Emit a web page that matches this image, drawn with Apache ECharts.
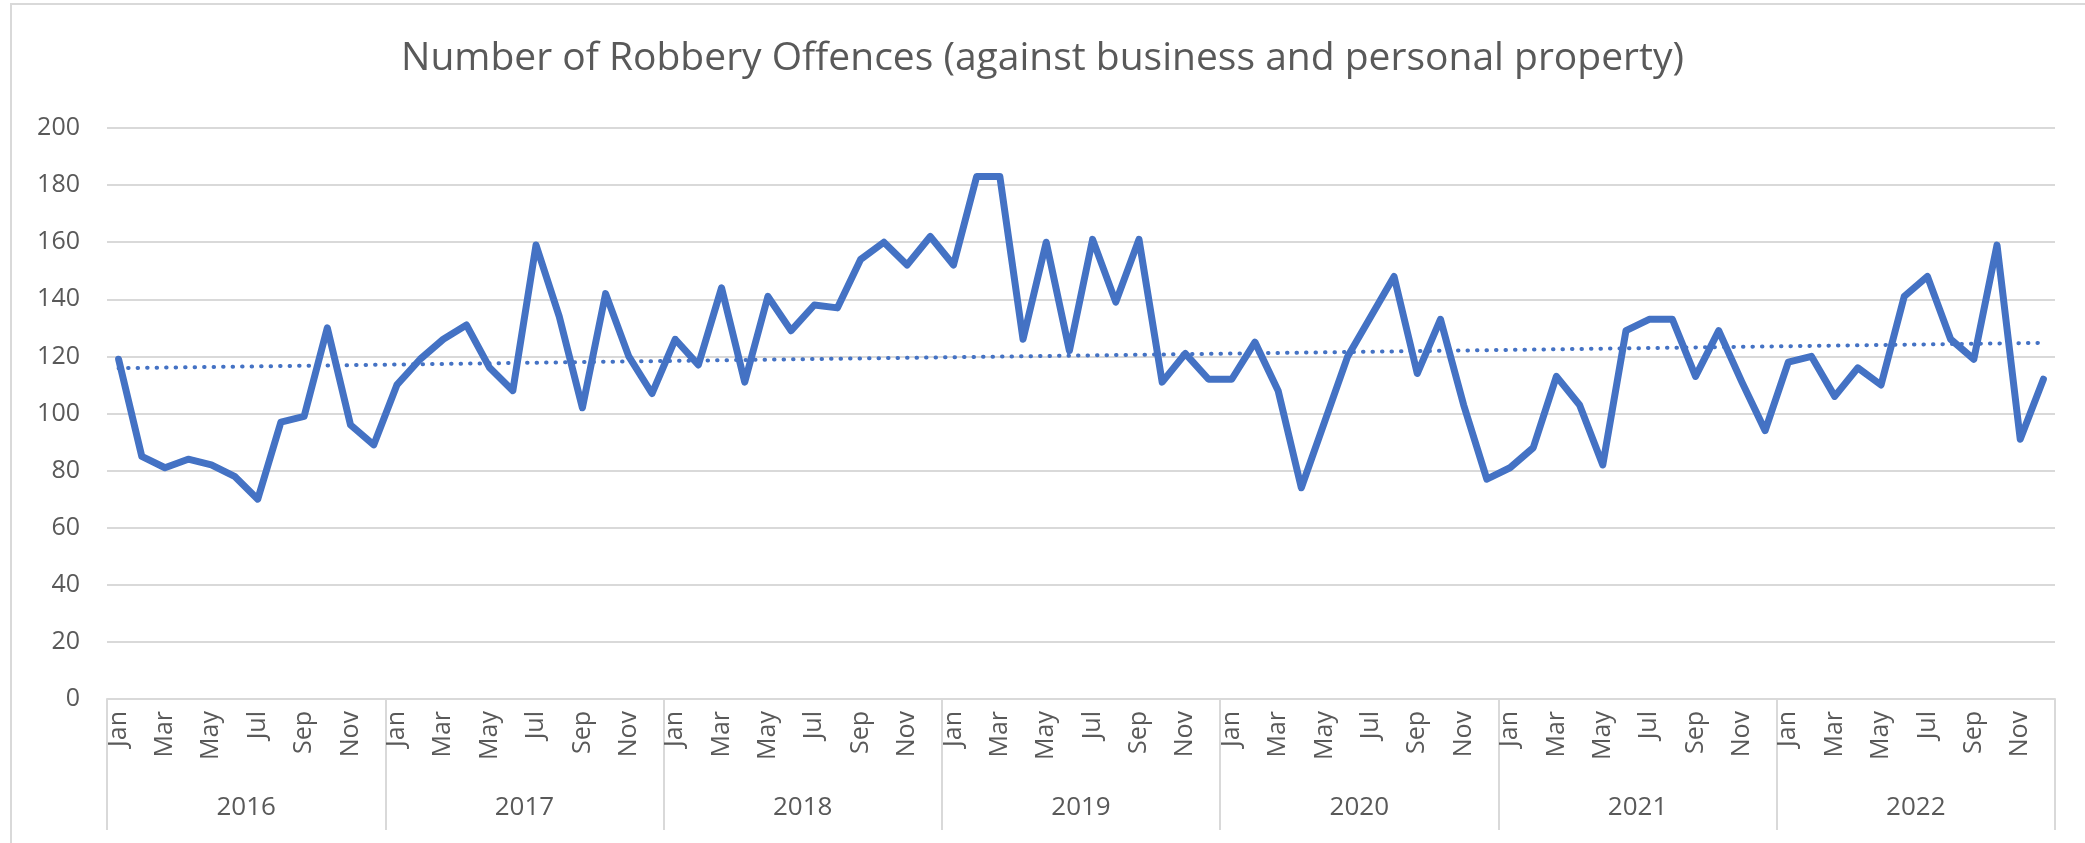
<!DOCTYPE html>
<html>
<head>
<meta charset="utf-8">
<script src="https://cdn.jsdelivr.net/npm/echarts@6/dist/echarts.min.js"></script>
<style>
html,body{margin:0;padding:0;background:#fff;}
#chart{width:2085px;height:843px;}
</style>
</head>
<body>
<div id="chart"></div>
<script>
var titleText = 'Number of Robbery Offences (against business and personal property)';
var years = ['2016', '2017', '2018', '2019', '2020', '2021', '2022'];
var monthNames = ['Jan','Feb','Mar','Apr','May','Jun','Jul','Aug','Sep','Oct','Nov','Dec'];
var yTicks = [0, 20, 40, 60, 80, 100, 120, 140, 160, 180, 200];

var v2016 = [119, 85, 81, 84, 82, 78, 70, 97, 99, 130, 96, 89];
var v2017 = [110, 119, 126, 131, 116, 108, 159, 134, 102, 142, 120, 107];
var v2018 = [126, 117, 144, 111, 141, 129, 138, 137, 154, 160, 152, 162];
var v2019 = [152, 183, 183, 126, 160, 122, 161, 139, 161, 111, 121, 112];
var v2020 = [112, 125, 108, 74, 97, 120, 134, 148, 114, 133, 103, 77];
var v2021 = [81, 88, 113, 103, 82, 129, 133, 133, 113, 129, 111, 94];
var v2022 = [118, 120, 106, 116, 110, 141, 148, 126, 119, 159, 91, 112];

var values = [].concat(v2016, v2017, v2018, v2019, v2020, v2021, v2022);
var months = [];
years.forEach(function (y) { monthNames.forEach(function (m) { months.push(m); }); });

// Linear trendline (least squares) derived from the data, as the spreadsheet does
var n = values.length, sx = 0, sy = 0, sxy = 0, sxx = 0;
for (var i = 0; i < n; i++) { sx += i; sy += values[i]; sxy += i * values[i]; sxx += i * i; }
var slope = (n * sxy - sx * sy) / (n * sxx - sx * sx);
var intercept = (sy - slope * sx) / n;
var trend = values.map(function (_, i) { return +(intercept + slope * i).toFixed(3); });

var FONT = 'Open Sans';
var chart = echarts.init(document.getElementById('chart'), null, {renderer: 'canvas'});
chart.setOption({
  animation: false,
  backgroundColor: '#ffffff',
  title: {
    text: titleText,
    left: 'center',
    top: 34,
    textStyle: {fontFamily: FONT, fontSize: 39, fontWeight: 'normal', color: '#595959'}
  },
  graphic: [{
    type: 'rect',
    shape: {x: 11, y: 4, width: 2300, height: 1000},
    style: {fill: 'none', stroke: '#d9d9d9', lineWidth: 2},
    silent: true
  }],
  grid: {left: 107, right: 30, top: 128, bottom: 144, containLabel: false},
  xAxis: [{
    type: 'category',
    data: months,
    boundaryGap: true,
    axisLine: {show: true, lineStyle: {color: '#d9d9d9', width: 2}},
    axisTick: {show: false},
    axisLabel: {
      interval: 1,
      rotate: 90,
      margin: 12,
      fontFamily: FONT,
      fontSize: 25,
      color: '#595959'
    },
    splitLine: {show: false}
  }, {
    type: 'category',
    data: years,
    position: 'bottom',
    boundaryGap: true,
    axisLine: {show: false},
    axisTick: {show: true, inside: false, length: 131, lineStyle: {color: '#d9d9d9', width: 2}},
    axisLabel: {
      margin: 96,
      fontFamily: FONT,
      fontSize: 26,
      color: '#595959'
    },
    splitLine: {show: false}
  }],
  yAxis: {
    type: 'value',
    min: yTicks[0],
    max: yTicks[yTicks.length - 1],
    interval: 20,
    axisLine: {show: false},
    axisTick: {show: false},
    axisLabel: {margin: 27, fontFamily: FONT, fontSize: 25, color: '#595959'},
    splitLine: {show: true, lineStyle: {color: '#d9d9d9', width: 2}}
  },
  series: [{
    name: 'Robbery offences',
    type: 'line',
    xAxisIndex: 0,
    data: values,
    symbol: 'none',
    lineStyle: {color: '#4472C4', width: 7, join: 'round', cap: 'round'},
    z: 3
  }, {
    name: 'Linear trend',
    type: 'line',
    xAxisIndex: 0,
    data: trend,
    symbol: 'none',
    lineStyle: {color: '#4472C4', width: 4, type: [0.5, 9], cap: 'round'},
    z: 4
  }]
});
</script>
</body>
</html>
